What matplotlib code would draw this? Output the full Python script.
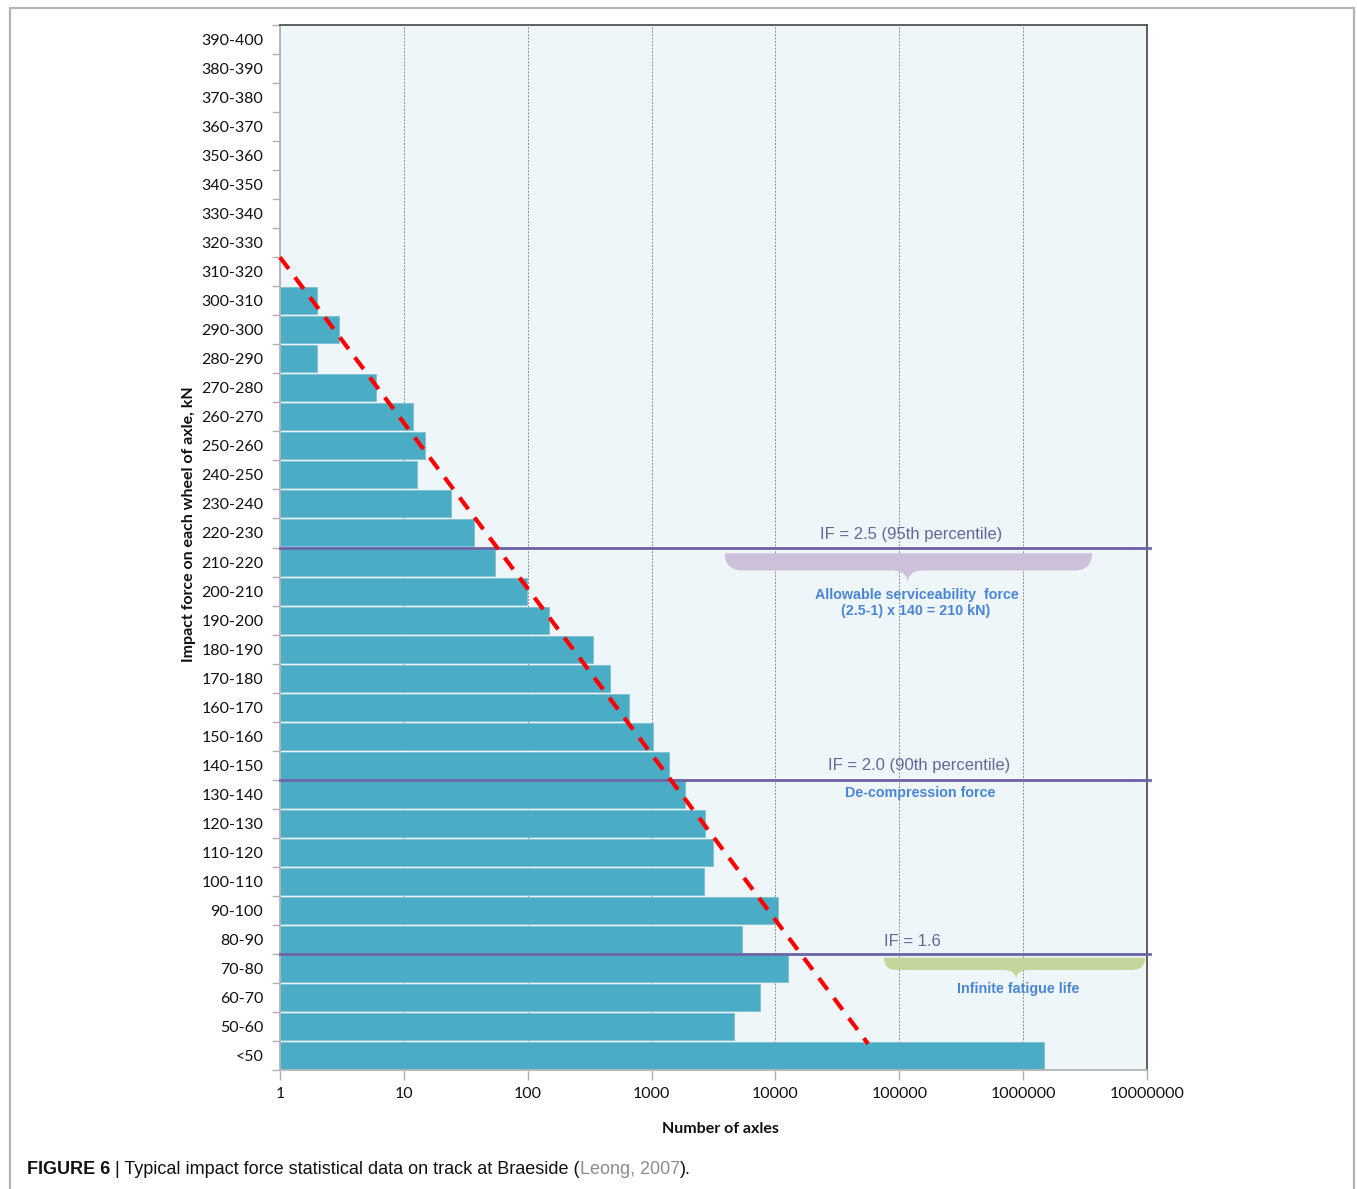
import numpy as np
import matplotlib.pyplot as plt
from matplotlib.path import Path
from matplotlib.patches import PathPatch, Rectangle

# impact force bins (kN), bottom to top
bins = ['<50', '50-60', '60-70', '70-80', '80-90', '90-100', '100-110', '110-120',
        '120-130', '130-140', '140-150', '150-160', '160-170', '170-180', '180-190',
        '190-200', '200-210', '210-220', '220-230', '230-240', '240-250', '250-260',
        '260-270', '270-280', '280-290', '290-300', '300-310', '310-320', '320-330',
        '330-340', '340-350', '350-360', '360-370', '370-380', '380-390', '390-400']
# number of axles recorded in each bin
axles = [1470000, 4600, 7500, 12600, 5350, 10500, 2640, 3120,
         2690, 1860, 1380, 1030, 660, 465, 336, 148, 99, 54,
         37, 24, 12.8, 14.8, 11.8, 6, 2, 3, 2, 0, 0,
         0, 0, 0, 0, 0, 0, 0]

# trend line (number of axles, bin position)
trend_x = [1, 56000]
trend_y = [27.5, 0.4]

# impact factor thresholds, drawn between bins
if_levels = [17.5, 9.5, 3.5]

xticks = [1, 10, 100, 1000, 10000, 100000, 1000000, 10000000]

W, H = 1357, 1189
fig = plt.figure(figsize=(W / 100, H / 100), dpi=100)
ax = fig.add_axes([280 / W, 1 - 1070 / H, 867 / W, 1045 / H])
ax.set_facecolor('#eef6f9')

pos = np.arange(len(bins))
vals = np.array(axles, dtype=float)
has = vals > 0
ax.barh(pos[has], vals[has] - 1, left=1, height=0.93, color='#4bacc6',
        edgecolor='#7cc0d4', linewidth=0.6, zorder=2)

ax.set_xscale('log')
ax.set_xlim(1, 1e7)
ax.set_ylim(-0.5, len(bins) - 0.5)

ax.set_xticks(xticks)
ax.set_xticklabels([str(v) for v in xticks])
ax.xaxis.set_minor_locator(plt.NullLocator())
ax.set_yticks(pos)
ax.set_yticklabels(bins)
ax.set_yticks(np.arange(len(bins) + 1) - 0.5, minor=True)

lbl_font = 'Lato'
for t in ax.get_xticklabels() + ax.get_yticklabels():
    t.set_fontfamily(lbl_font)
    t.set_fontsize(11.5)
    t.set_color('#111111')
ax.tick_params(axis='y', which='major', length=0, pad=12)
ax.tick_params(axis='y', which='minor', length=6, color='#b0b0b0', width=1)
ax.tick_params(axis='x', which='major', length=7, color='#b0b0b0', width=1, pad=5)

ax.grid(axis='x', which='major', linestyle=(0, (2, 1.5)), color='#8c8c8c',
        linewidth=0.7, zorder=0)
ax.set_axisbelow(True)

for s in ['top', 'right']:
    ax.spines[s].set_color('#505050')
    ax.spines[s].set_linewidth(1.3)
for s in ['left', 'bottom']:
    ax.spines[s].set_color('#b4b4b4')
    ax.spines[s].set_linewidth(1.3)

ax.set_xlabel('Number of axles', fontfamily=lbl_font, fontweight='bold', fontsize=11.5,
              color='#111111')
ax.xaxis.set_label_coords(0.508, -0.05)
ax.set_ylabel('Impact force on each wheel of axle, kN', fontfamily=lbl_font,
              fontweight='bold', fontsize=11.5, color='#111111')
ax.yaxis.set_label_coords(-0.097, 0.522)

# trend line
ax.plot(trend_x, trend_y, color='#ff0000', linewidth=3, linestyle=(0, (3.5, 2.5)),
        zorder=4, clip_on=False)

# threshold lines
for y in if_levels:
    ax.plot([1, 1.05e7], [y, y], color='#6a64a6', linewidth=2, zorder=3, clip_on=False)


def brace(x0, x1, xc, ytop, th, dep, rx, wx, color):
    # curly bracket hanging under a line, in axes fraction
    yb = ytop - th
    verts = [(x0, ytop), (x1, ytop),
             (x1, yb), (x1 - rx, yb),
             (xc + wx, yb),
             (xc + wx * 0.3, yb), (xc, yb - dep * 0.4), (xc, yb - dep),
             (xc, yb - dep * 0.4), (xc - wx * 0.3, yb), (xc - wx, yb),
             (x0 + rx, yb),
             (x0, yb), (x0, ytop),
             (x0, ytop)]
    codes = [Path.MOVETO, Path.LINETO,
             Path.CURVE3, Path.CURVE3,
             Path.LINETO,
             Path.CURVE4, Path.CURVE4, Path.CURVE4,
             Path.CURVE4, Path.CURVE4, Path.CURVE4,
             Path.LINETO,
             Path.CURVE3, Path.CURVE3,
             Path.CLOSEPOLY]
    ax.add_patch(PathPatch(Path(verts, codes), transform=ax.transAxes,
                           facecolor=color, edgecolor='none', zorder=3))


brace(0.513, 0.9366, 0.724, 0.4945, 0.0165, 0.0125, 0.021, 0.018, '#ccc0da')
brace(0.6966, 0.9977, 0.849, 0.1075, 0.0118, 0.0095, 0.015, 0.015, '#c3d69b')

note_font = 'Liberation Sans'
if_col = '#66669a'
blue = '#4a86d6'
ax.text(0.728, 0.512, 'IF = 2.5 (95th percentile)', transform=ax.transAxes,
        ha='center', va='center', fontsize=12, color=if_col, fontfamily=note_font, zorder=5)
ax.text(0.737, 0.291, 'IF = 2.0 (90th percentile)', transform=ax.transAxes,
        ha='center', va='center', fontsize=12, color=if_col, fontfamily=note_font, zorder=5)
ax.text(0.697, 0.1225, 'IF = 1.6', transform=ax.transAxes,
        ha='left', va='center', fontsize=12, color=if_col, fontfamily=note_font, zorder=5)
ax.text(0.7345, 0.4545, 'Allowable serviceability  force', transform=ax.transAxes,
        ha='center', va='center', fontsize=10.3, color=blue, fontweight='bold',
        fontfamily=note_font, zorder=5)
ax.text(0.7335, 0.439, '(2.5-1) x 140 = 210 kN)', transform=ax.transAxes,
        ha='center', va='center', fontsize=10.3, color=blue, fontweight='bold',
        fontfamily=note_font, zorder=5)
ax.text(0.738, 0.265, 'De-compression force', transform=ax.transAxes,
        ha='center', va='center', fontsize=10.3, color=blue, fontweight='bold',
        fontfamily=note_font, zorder=5)
ax.text(0.851, 0.0775, 'Infinite fatigue life', transform=ax.transAxes,
        ha='center', va='center', fontsize=10.3, color=blue, fontweight='bold',
        fontfamily=note_font, zorder=5)

# panel frame
fig.add_artist(Rectangle((10 / W, -0.01), 1344 / W, 1 - 8 / H + 0.01,
                         transform=fig.transFigure, fill=False,
                         edgecolor='#b4b4b4', linewidth=1.6))

# caption, pieced together so the citation can be grey
cap_font = ['Liberation Sans Narrow', 'Liberation Sans']
c1 = fig.text(27 / W, 1 - 1170 / H, 'FIGURE 6', fontweight='bold', fontsize=13,
              fontfamily=cap_font, va='center', ha='left', color='#111111')
c2 = fig.add_artist(plt.Annotation(' | Typical impact force statistical data on track at Braeside (',
                                   xy=(1, 0), xycoords=c1, va='bottom', ha='left',
                                   fontsize=13, fontfamily=cap_font, color='#111111'))
c3 = fig.add_artist(plt.Annotation('Leong, 2007', xy=(1, 0), xycoords=c2,
                                   va='bottom', ha='left', fontsize=13,
                                   fontfamily=cap_font, color='#8c8c8c'))
fig.add_artist(plt.Annotation(').', xy=(1, 0), xycoords=c3, va='bottom', ha='left',
                              fontsize=13, fontfamily=cap_font, color='#111111'))

fig.savefig('out.png', dpi=100)
